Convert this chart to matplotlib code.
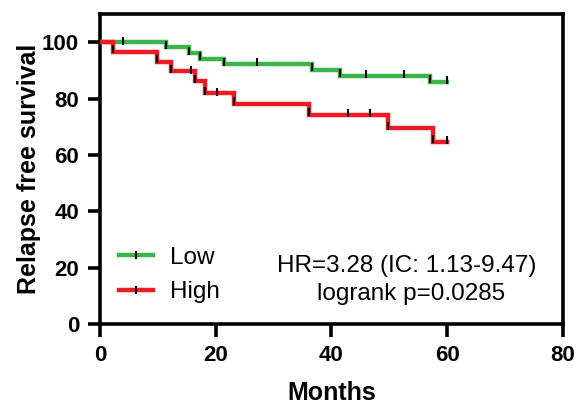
import matplotlib
matplotlib.use("Agg")
import matplotlib.pyplot as plt
from matplotlib.lines import Line2D

plt.rcParams['font.family'] = ['Liberation Sans', 'DejaVu Sans']

# Kaplan-Meier steps (months, % relapse free)
low_times = [0, 11.4, 15.3, 17.3, 21.5, 36.7, 41.5, 57.0, 60]
low_surv = [100, 98.2, 96.1, 94.1, 92.2, 90.2, 88.1, 86.0, 86.0]
low_cens_t = [4.0, 27.2, 45.9, 52.5, 60.0]
low_cens_s = [100, 92.2, 88.1, 88.1, 86.0]

high_times = [0, 2.2, 9.8, 12.3, 16.4, 18.1, 23.2, 36.2, 49.7, 57.5, 60]
high_surv = [100, 96.6, 93.1, 89.7, 86.2, 81.9, 78.1, 74.2, 69.4, 64.6, 64.6]
high_cens_t = [15.7, 20.2, 42.8, 46.6, 60.0]
high_cens_s = [89.7, 81.9, 74.2, 74.2, 64.6]

green = '#3bb54a'
red = '#ed1c24'

fig = plt.figure(figsize=(5.77, 4.05), dpi=100)
ax = fig.add_axes([0.1733, 0.2, 0.8024, 0.7654])

for t, s, c, ct, cs in [(low_times, low_surv, green, low_cens_t, low_cens_s),
                        (high_times, high_surv, red, high_cens_t, high_cens_s)]:
    ax.step(t, s, where='post', color=c, lw=3.2, solid_joinstyle='miter', zorder=3)
    # dark marks at each event step
    ax.plot(t[1:-1], [v + 0.9 for v in s[1:-1]], ls='none', marker='|',
            color='k', ms=6, mew=1.5, zorder=4)
    # censored observations
    ax.plot(ct, [v + 0.6 for v in cs], ls='none', marker='|',
            color='k', ms=6, mew=1.5, zorder=4)

ax.set_xlim(0, 80)
ax.set_ylim(0, 110)
ax.set_xticks([0, 20, 40, 60, 80])
ax.set_yticks([0, 20, 40, 60, 80, 100])
for sp in ax.spines.values():
    sp.set_linewidth(2.6)
ax.tick_params(width=2.6, length=9, labelsize=16, pad=6)
for lab in ax.get_xticklabels() + ax.get_yticklabels():
    lab.set_fontweight('bold')

ax.set_xlabel('Months', fontsize=18, fontweight='bold', labelpad=11)
ax.set_ylabel('Relapse free survival', fontsize=18, fontweight='bold', labelpad=1)

handles = [
    Line2D([], [], color=green, lw=3.2, marker='|', mec='k', mfc='k', ms=6, mew=1.5),
    Line2D([], [], color=red, lw=3.2, marker='|', mec='k', mfc='k', ms=6, mew=1.5),
]
ax.legend(handles, ['Low', 'High'], loc='center left', bbox_to_anchor=(0.019, 0.158),
          borderaxespad=0, frameon=False, fontsize=17.5, handlelength=1.4,
          handletextpad=0.72, labelspacing=0.5, numpoints=1)

ax.text(53.0, 20.6, 'HR=3.28 (IC: 1.13-9.47)', fontsize=17.5, ha='center', va='center')
ax.text(53.8, 10.6, 'logrank p=0.0285', fontsize=17.5, ha='center', va='center')

fig.savefig('out.png', dpi=100)
